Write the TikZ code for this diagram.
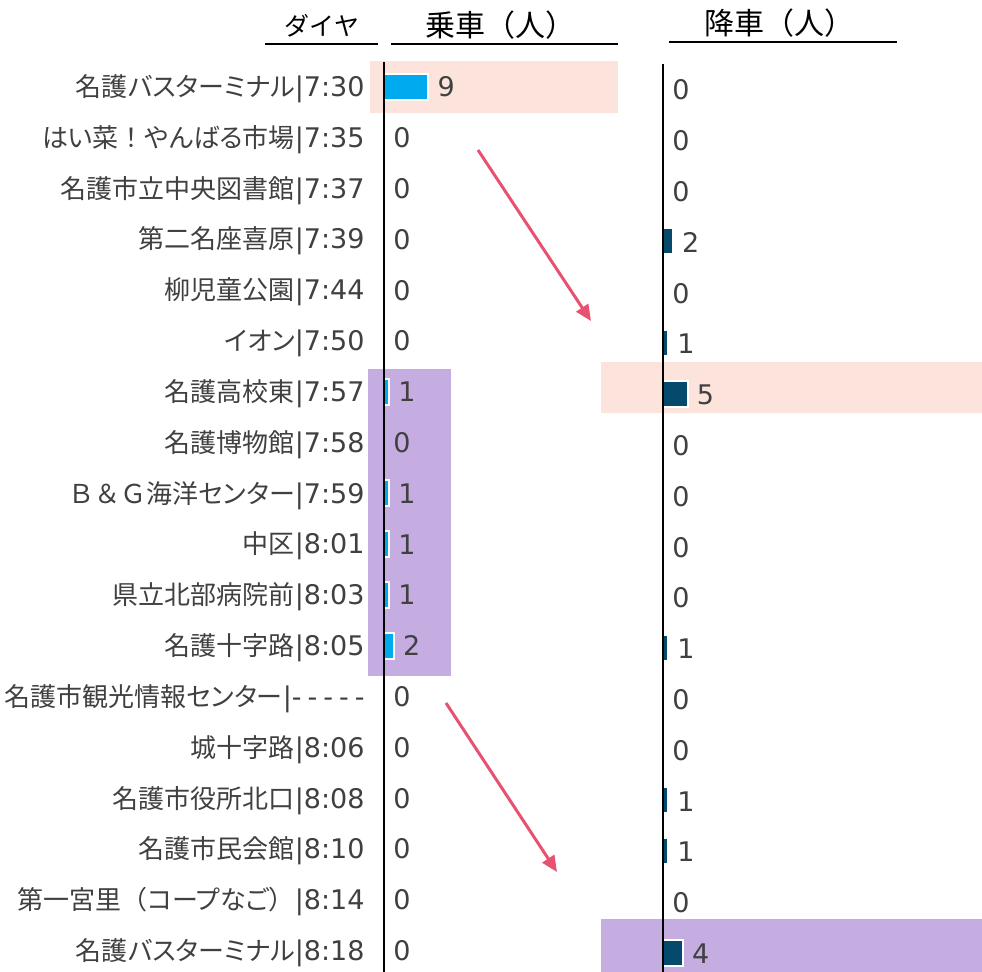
\documentclass[tikz,border=0pt]{standalone}
\usepackage{fontspec}
\newfontfamily\jpfont[RawFeature=+palt]{Noto Sans CJK JP}
\newfontfamily\hdfont{Noto Sans CJK JP}
\newfontfamily\latfont{DejaVu Sans}
\usetikzlibrary{arrows.meta,positioning}
\definecolor{salmon}{HTML}{FCE3DB}
\definecolor{lilac}{HTML}{C5ADE2}
\definecolor{onblue}{HTML}{00AAEF}
\definecolor{offnavy}{HTML}{054A6D}
\definecolor{hintred}{HTML}{E6526F}
\definecolor{txtgray}{HTML}{404040}
\newcommand\hhmm[1]{{\latfont\fontsize{13.5}{16}\selectfont#1}}
\newcommand\fw[1]{{\hdfont#1}}
\newcommand\nodash{-\kern3pt-\kern3pt-\kern3pt-\kern3pt-}
\tikzstyle{stn}=[anchor=east,inner sep=0pt,text=txtgray,text height=10pt,text depth=0pt,
  font=\jpfont\fontsize{13}{15}\selectfont]
\tikzstyle{val}=[stn,anchor=west,font=\latfont\fontsize{13.5}{16}\selectfont]
\tikzstyle{head}=[inner sep=0pt,text=black,font=\hdfont\fontsize{15}{18}\selectfont]
\tikzstyle{onbar}=[fill=onblue,draw=white,line width=1pt]
\tikzstyle{offbar}=[onbar,fill=offnavy]
\tikzstyle{hint}=[draw=hintred,line width=1.5pt]

\begin{document}
\begin{tikzpicture}[x=.5pt, y=-.5pt, >={Triangle[length=8pt,width=7pt]}]
  \useasboundingbox (0,0) rectangle (982,972);

  % highlighted rows
  \fill[salmon] (370,61) rectangle (618,113);
  \fill[lilac] (368,369) rectangle (451,676);
  \fill[salmon] (601,362) rectangle (982,413);
  \fill[lilac] (601,919) rectangle (982,972);

  % headers
  \node[head, font=\hdfont\fontsize{12.5}{14}\selectfont] (hdia) at (322,26) {ダイヤ};
  \node[head] (hon) at (500,25) {乗車（人）};
  \node[head] (hoff) at (779,23) {降車（人）};
  \draw[line width=1pt] (265,44) -- (378,44) (391,44) -- (618,44) (669,42) -- (897,42);

  % stops
  \node[stn] (st1) at (365,87) {名護バスターミナル\hhmm{|7:30}};
  \node[stn] (st2) at (365,138) {はい菜\fw{！}やんばる市場\hhmm{|7:35}};
  \node[stn] (st3) at (365,189) {名護市立中央図書館\hhmm{|7:37}};
  \node[stn] (st4) at (365,239) {第二名座喜原\hhmm{|7:39}};
  \node[stn] (st5) at (365,290) {柳児童公園\hhmm{|7:44}};
  \node[stn] (st6) at (365,341) {イオン\hhmm{|7:50}};
  \node[stn] (st7) at (365,392) {名護高校東\hhmm{|7:57}};
  \node[stn] (st8) at (365,443) {名護博物館\hhmm{|7:58}};
  \node[stn] (st9) at (365,494) {\fw{Ｂ＆Ｇ}海洋センター\hhmm{|7:59}};
  \node[stn] (st10) at (365,544) {中区\hhmm{|8:01}};
  \node[stn] (st11) at (365,595) {県立北部病院前\hhmm{|8:03}};
  \node[stn] (st12) at (365,646) {名護十字路\hhmm{|8:05}};
  \node[stn] (st13) at (365,697) {名護市観光情報センター\hhmm{|\nodash}};
  \node[stn] (st14) at (365,748) {城十字路\hhmm{|8:06}};
  \node[stn] (st15) at (365,799) {名護市役所北口\hhmm{|8:08}};
  \node[stn] (st16) at (365,849) {名護市民会館\hhmm{|8:10}};
  \node[stn] (st17) at (365,900) {第一宮里\fw{（}コープなご\fw{）}\hhmm{|8:14}};
  \node[stn] (st18) at (365,951) {名護バスターミナル\hhmm{|8:18}};

  % boarding
  \foreach \i/\v in {1/9,2/0,3/0,4/0,5/0,6/0,7/1,8/0,9/1,10/1,11/1,12/2,13/0,14/0,15/0,16/0,17/0,18/0} {
    \ifnum\v>0 \filldraw[onbar] (384,{74+50.8*(\i-1)}) rectangle ({384+4.9*\v},{100+50.8*(\i-1)}); \fi
    \node[val] (on\i) at ({393+4.9*\v},{87+50.8*(\i-1)}) {\v};
  }
  % alighting
  \foreach \i/\v in {1/0,2/0,3/0,4/2,5/0,6/1,7/5,8/0,9/0,10/0,11/0,12/1,13/0,14/0,15/1,16/1,17/0,18/4} {
    \ifnum\v>0 \filldraw[offbar] ({663},{76+50.8*(\i-1)}) rectangle ({663+4.9*\v},{102+50.8*(\i-1)}); \fi
    \node[val] (off\i) at ({672+4.9*\v},{90+50.8*(\i-1)}) {\v};
  }

  \draw[line width=1pt] (384,62) -- (384,972);
  \draw[line width=1pt] (663,64) -- (663,972);

  % hints
  \coordinate (h1a) at (478,150);
  \coordinate (h1b) at (591,321);
  \coordinate (h2a) at (446,703);
  \coordinate (h2b) at (557,872);
  \draw[hint,->] (h1a) -- (h1b);
  \draw[hint,->] (h2a) -- (h2b);
\end{tikzpicture}
\end{document}
